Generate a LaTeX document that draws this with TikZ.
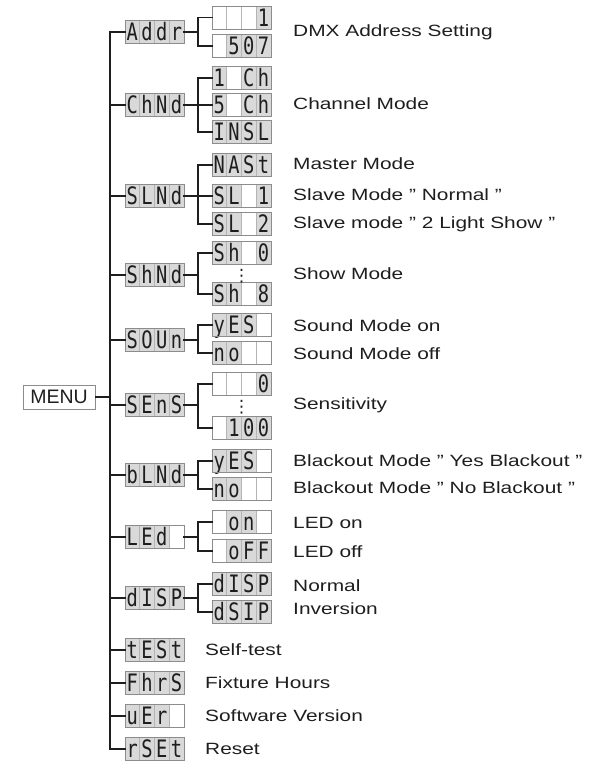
\documentclass[tikz,border=0pt]{standalone}
\usepackage{fontspec}
\setmainfont{Liberation Sans}[FakeStretch=1.28]
\newfontfamily\menufont{Liberation Sans}
\newfontfamily\segfont{DejaVu Sans Mono}[FakeStretch=0.78]
\newfontfamily\dotfont{DejaVu Sans}
\usepackage{tikz}
\usetikzlibrary{positioning}
\definecolor{lcdgray}{HTML}{D9D9D9}
\definecolor{lcdedge}{HTML}{8C8C8C}
\definecolor{lcdrule}{HTML}{B4B4B4}
\definecolor{inkdark}{HTML}{1E1E1E}

% one cell of a display, left empty when no character is given
\newcommand{\lcdcell}[3]{%
  \if\relax\detokenize{#3}\relax
    \node[segcell, fill=white, anchor=west, xshift={(#2-1)*14.75pt}] at (#1.west) {};%
  \else
    \node[segcell, anchor=west, xshift={(#2-1)*14.75pt}] at (#1.west) {#3};%
  \fi}
% four-cell display: name, position, cells
\newcommand{\lcd}[6]{%
  \node[segbox] (#1) at #2 {};
  \lcdcell{#1}{1}{#3}\lcdcell{#1}{2}{#4}\lcdcell{#1}{3}{#5}\lcdcell{#1}{4}{#6}
  \draw[lcdedge, line width=0.9pt] (#1.south west) rectangle (#1.north east);
}

\begin{document}
\begin{tikzpicture}[
  x=1pt, y=-1pt,
  segbox/.style={minimum width=59pt, minimum height=23pt, inner sep=0pt, outer sep=0pt},
  segcell/.style={minimum width=14.75pt, minimum height=23pt, inner sep=0pt, outer sep=0pt,
    draw=lcdrule, line width=0.6pt, fill=lcdgray, text=inkdark,
    font=\segfont\fontsize{24}{24}\selectfont, text height=17.4pt, text depth=0pt},
  menubox/.style={draw=lcdedge, line width=0.9pt, fill=white, minimum width=72pt, minimum height=24pt,
    inner sep=0pt, text=inkdark, font=\menufont\fontsize{19.5}{20}\selectfont},
  desc/.style={anchor=west, inner sep=0pt, text=inkdark, font=\fontsize{16.3}{19}\selectfont},
  dots/.style={inner sep=0pt, text=inkdark, font=\dotfont\fontsize{17}{17}\selectfont,
    text height=8pt, text depth=0pt},
  link/.style={inkdark, line width=1.1pt, line cap=rect},
]
  \useasboundingbox (0,0) rectangle (606,763);

  % Menu root
  \node[menubox] (menu) at (59,397) {MENU};

  % First level
  \lcd{addr}{(154.5,32)}{A}{d}{d}{r}
  \lcd{chmd}{(154.5,105)}{C}{h}{N}{d}
  \lcd{slmd}{(154.5,196)}{S}{L}{N}{d}
  \lcd{shmd}{(154.5,275)}{S}{h}{N}{d}
  \lcd{soun}{(154.5,340)}{S}{O}{U}{n}
  \lcd{sens}{(154.5,405)}{S}{E}{n}{S}
  \lcd{blmd}{(154.5,475)}{b}{L}{N}{d}
  \lcd{led}{(154.5,537)}{L}{E}{d}{}
  \lcd{disp}{(154.5,598)}{d}{I}{S}{P}
  \lcd{test}{(154.5,650)}{t}{E}{S}{t}
  \lcd{fhrs}{(154.5,683)}{F}{h}{r}{S}
  \lcd{uer}{(154.5,716)}{u}{E}{r}{}
  \lcd{rset}{(154.5,749)}{r}{S}{E}{t}

  % Second level
  \lcd{addr1}{(241.5,17.5)}{}{}{}{1}
  \lcd{addr2}{(241.5,46)}{}{5}{0}{7}
  \lcd{chmd1}{(241.5,78)}{1}{}{C}{h}
  \lcd{chmd2}{(241.5,105)}{5}{}{C}{h}
  \lcd{chmd3}{(241.5,132)}{I}{N}{S}{L}
  \lcd{slmd1}{(241.5,165)}{N}{A}{S}{t}
  \lcd{slmd2}{(241.5,196)}{S}{L}{}{1}
  \lcd{slmd3}{(241.5,224)}{S}{L}{}{2}
  \lcd{shmd1}{(241.5,253)}{S}{h}{}{0}
  \lcd{shmd2}{(241.5,294)}{S}{h}{}{8}
  \lcd{soun1}{(241.5,325)}{y}{E}{S}{}
  \lcd{soun2}{(241.5,353)}{n}{o}{}{}
  \lcd{sens1}{(241.5,384)}{}{}{}{0}
  \lcd{sens2}{(241.5,428)}{}{1}{0}{0}
  \lcd{blmd1}{(241.5,461)}{y}{E}{S}{}
  \lcd{blmd2}{(241.5,489)}{n}{o}{}{}
  \lcd{led1}{(241.5,522)}{}{o}{n}{}
  \lcd{led2}{(241.5,551)}{}{o}{F}{F}
  \lcd{disp1}{(241.5,584)}{d}{I}{S}{P}
  \lcd{disp2}{(241.5,612)}{d}{S}{I}{P}

  \node[dots] (shdots) at (241.5,277) {⋮};
  \node[dots] (sensdots) at (241.5,408) {⋮};

  % Connectors
  \coordinate (bus) at (110,0);
  \coordinate (fork) at (198,0);
  \draw[link] (addr.west -| bus) -- (rset.west -| bus);
  \draw[link] (menu.east) -- (menu.east -| bus);
  \foreach \n in {addr,chmd,slmd,shmd,soun,sens,blmd,led,disp,test,fhrs,uer,rset}
    \draw[link] (\n.west) -- (\n.west -| bus);
  \foreach \n/\k in {addr/2,chmd/3,slmd/3,shmd/2,soun/2,sens/2,blmd/2,led/2,disp/2} {
    \draw[link] (\n.east) -- (\n.east -| fork);
    \draw[link] (\n1.west -| fork) -- (\n\k.west -| fork);
    \foreach \i in {1,...,\k}
      \draw[link] (\n\i.west) -- (\n\i.west -| fork);
  }

  % Descriptions
  \foreach \y/\txt in {32/DMX Address Setting, 104/Channel Mode, 164/Master Mode,
      195/Slave Mode " Normal ", 224/Slave mode " 2 Light Show ", 274/Show Mode,
      326/Sound Mode on, 354/Sound Mode off, 405/Sensitivity,
      461/Blackout Mode " Yes Blackout ", 488/Blackout Mode " No Blackout ",
      523/LED on, 552/LED off, 586/Normal, 609/Inversion}
    \node[desc] (d\y) at (293,\y) {\txt};
  \foreach \y/\txt in {650/Self-test, 683/Fixture Hours, 716/Software Version, 749/Reset}
    \node[desc] (d\y) at (205,\y) {\txt};
\end{tikzpicture}
\end{document}
